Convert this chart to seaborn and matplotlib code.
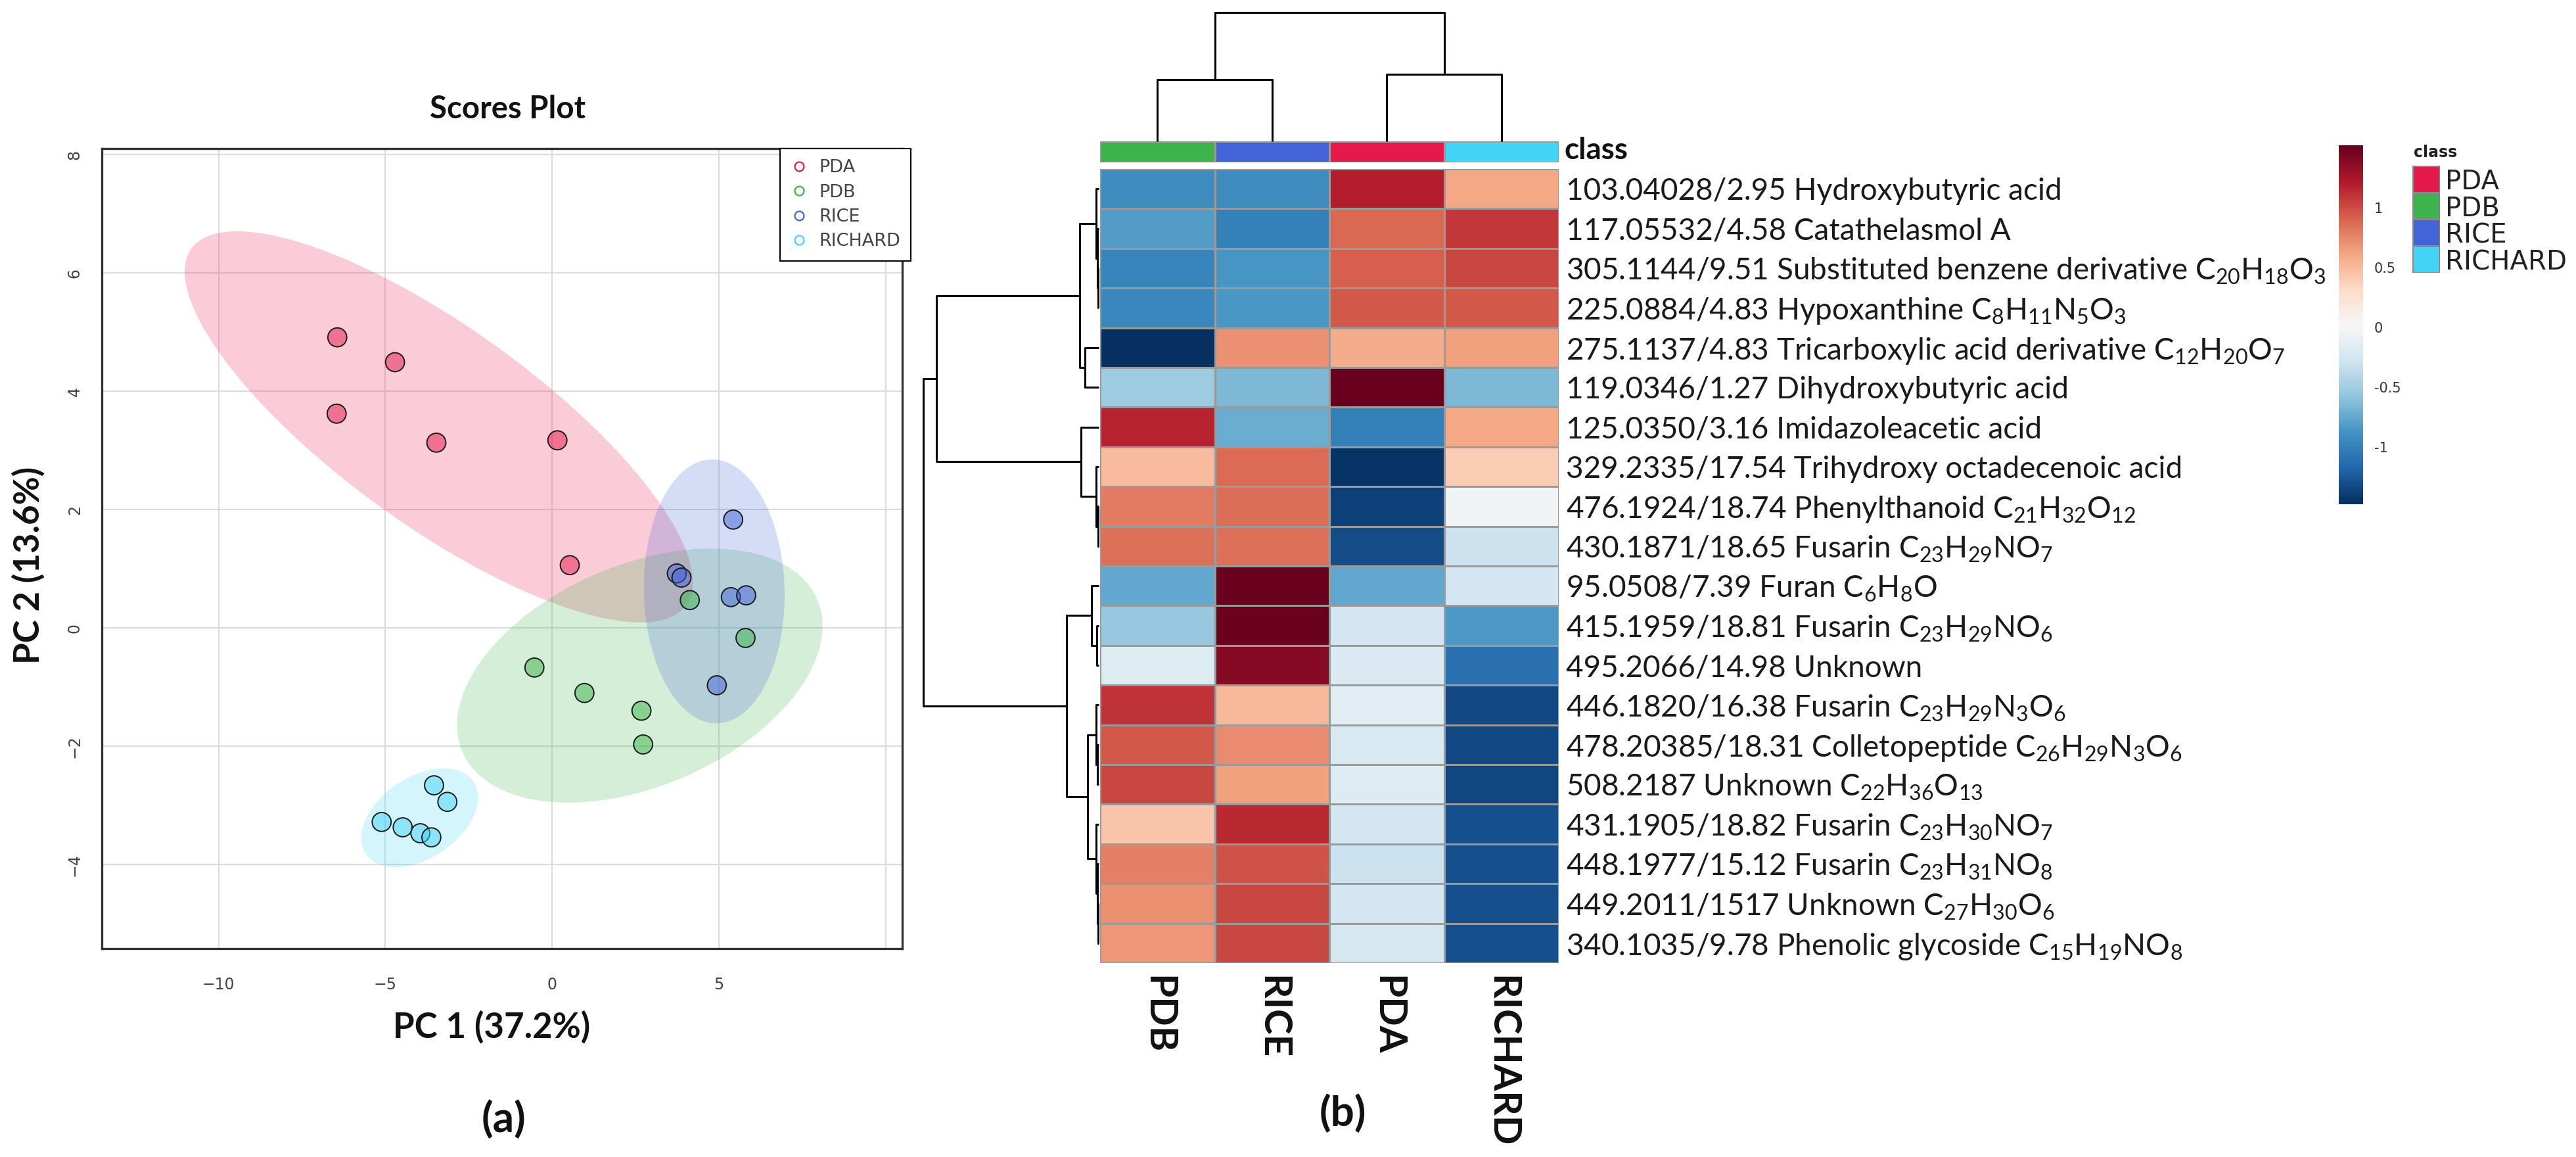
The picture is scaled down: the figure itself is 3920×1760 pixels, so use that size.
import numpy as np
import pandas as pd
import matplotlib
matplotlib.use("Agg")
import matplotlib.pyplot as plt
import seaborn as sns
from matplotlib.patches import Ellipse
from matplotlib.colors import ListedColormap
from matplotlib.lines import Line2D

# ---------------- data: PCA scores (panel a) ----------------
groups = ["PDA", "PDB", "RICE", "RICHARD"]
pda_pc1 = [-6.44, -4.71, -6.46, -3.47, 0.16, 0.53]
pda_pc2 = [4.91, 4.49, 3.62, 3.13, 3.17, 1.06]
pdb_pc1 = [4.13, 5.80, -0.53, 0.97, 2.68, 2.73]
pdb_pc2 = [0.47, -0.17, -0.67, -1.10, -1.40, -1.97]
rice_pc1 = [5.43, 3.74, 3.88, 5.36, 5.82, 4.94]
rice_pc2 = [1.83, 0.92, 0.85, 0.52, 0.55, -0.97]
richard_pc1 = [-3.54, -3.14, -5.11, -4.48, -3.95, -3.62]
richard_pc2 = [-2.66, -2.94, -3.28, -3.37, -3.47, -3.54]
x_ticks = [-10, -5, 0, 5, 10]
x_ticklabels = ["\u221210", "\u22125", "0", "5", ""]
y_ticks = [-4, -2, 0, 2, 4, 6, 8]

# ---------------- data: heatmap (panel b) ----------------
hm_columns = ["PDB", "RICE", "PDA", "RICHARD"]
features = [
    "103.04028/2.95 Hydroxybutyric acid",
    "117.05532/4.58 Catathelasmol A",
    "305.1144/9.51 Substituted benzene derivative C$_{20}$H$_{18}$O$_{3}$",
    "225.0884/4.83 Hypoxanthine C$_{8}$H$_{11}$N$_{5}$O$_{3}$",
    "275.1137/4.83 Tricarboxylic acid derivative C$_{12}$H$_{20}$O$_{7}$",
    "119.0346/1.27 Dihydroxybutyric acid",
    "125.0350/3.16 Imidazoleacetic acid",
    "329.2335/17.54 Trihydroxy octadecenoic acid",
    "476.1924/18.74 Phenylthanoid C$_{21}$H$_{32}$O$_{12}$",
    "430.1871/18.65 Fusarin C$_{23}$H$_{29}$NO$_{7}$",
    "95.0508/7.39 Furan C$_{6}$H$_{8}$O",
    "415.1959/18.81 Fusarin C$_{23}$H$_{29}$NO$_{6}$",
    "495.2066/14.98 Unknown",
    "446.1820/16.38 Fusarin C$_{23}$H$_{29}$N$_{3}$O$_{6}$",
    "478.20385/18.31 Colletopeptide C$_{26}$H$_{29}$N$_{3}$O$_{6}$",
    "508.2187 Unknown C$_{22}$H$_{36}$O$_{13}$",
    "431.1905/18.82 Fusarin C$_{23}$H$_{30}$NO$_{7}$",
    "448.1977/15.12 Fusarin C$_{23}$H$_{31}$NO$_{8}$",
    "449.2011/1517 Unknown C$_{27}$H$_{30}$O$_{6}$",
    "340.1035/9.78 Phenolic glycoside C$_{15}$H$_{19}$NO$_{8}$",
]
pdb_vals = [-0.92, -0.82, -0.97, -0.96, -1.47, -0.52, 1.18, 0.50, 0.80, 0.85,
            -0.76, -0.55, -0.18, 1.10, 0.95, 1.02, 0.45, 0.78, 0.70, 0.68]
rice_vals = [-0.92, -1.00, -0.86, -0.85, 0.70, -0.65, -0.72, 0.87, 0.86, 0.85,
             1.50, 1.50, 1.38, 0.52, 0.73, 0.63, 1.15, 0.98, 1.02, 1.02]
pda_vals = [1.20, 0.88, 0.92, 0.95, 0.58, 1.52, -1.00, -1.45, -1.38, -1.32,
            -0.76, -0.25, -0.20, -0.15, -0.22, -0.18, -0.25, -0.30, -0.26, -0.24]
richard_vals = [0.60, 1.08, 1.02, 0.95, 0.63, -0.65, 0.60, 0.40, -0.05, -0.30,
                -0.25, -0.84, -1.10, -1.33, -1.33, -1.35, -1.30, -1.30, -1.30, -1.30]
cbar_ticks = [-1, -0.5, 0, 0.5, 1]
cbar_ticklabels = ["-1", "-0.5", "0", "0.5", "1"]

# dendrogram linkages: (left id, right id, height); leaves are 0..n-1
row_merges = [
    (2, 3, 1), (1, 20, 2), (0, 21, 4), (4, 5, 21), (22, 23, 29),
    (8, 9, 1), (7, 25, 4), (6, 26, 27),
    (11, 12, 3), (10, 28, 11), (14, 15, 2), (13, 30, 4),
    (18, 19, 1), (17, 32, 2), (16, 33, 4), (31, 34, 17), (29, 35, 49),
    (24, 27, 247), (37, 36, 267),
]
col_merges = [(0, 1, 94), (2, 3, 102), (4, 5, 196)]

class_colors = {"PDA": "#e6194B", "PDB": "#3cb44b", "RICE": "#4363d8", "RICHARD": "#42d4f4"}

# ---------------- figure ----------------
sns.set_style("white")
plt.rcParams["font.family"] = ["Lato", "DejaVu Sans"]
plt.rcParams["mathtext.fontset"] = "custom"
plt.rcParams["mathtext.rm"] = "Lato"
plt.rcParams["mathtext.default"] = "regular"

W, H = 3920, 1760
fig = plt.figure(figsize=(W / 100, H / 100), dpi=100)


def fax(x0, y0, x1, y1):
    return fig.add_axes([x0 / W, 1 - y1 / H, (x1 - x0) / W, (y1 - y0) / H])


# ----- panel (a): scores plot -----
scores = pd.DataFrame({
    "PC1": pda_pc1 + pdb_pc1 + rice_pc1 + richard_pc1,
    "PC2": pda_pc2 + pdb_pc2 + rice_pc2 + richard_pc2,
    "group": ["PDA"] * len(pda_pc1) + ["PDB"] * len(pdb_pc1)
             + ["RICE"] * len(rice_pc1) + ["RICHARD"] * len(richard_pc1),
})

ax = fax(155, 226, 1373, 1443)
ax.set_xlim(-13.5, 10.5)
ax.set_ylim(-5.42, 8.1)
ax.grid(True, color="#dcdcdc", lw=1.6)
ax.set_axisbelow(True)

for g in groups:
    sub = scores[scores.group == g]
    xy = sub[["PC1", "PC2"]].to_numpy()
    mu = xy.mean(axis=0)
    cov = np.cov(xy.T)
    vals, vecs = np.linalg.eigh(cov)
    order = vals.argsort()[::-1]
    vals, vecs = vals[order], vecs[:, order]
    k = np.sqrt(5.991)
    ang = np.degrees(np.arctan2(vecs[1, 0], vecs[0, 0]))
    ax.add_patch(Ellipse(mu, 2 * k * np.sqrt(vals[0]), 2 * k * np.sqrt(vals[1]), angle=ang,
                         facecolor=class_colors[g], alpha=0.22, lw=0, zorder=1))

sns.scatterplot(data=scores, x="PC1", y="PC2", hue="group", hue_order=groups,
                palette=class_colors, s=430, edgecolor="black", linewidth=1.4,
                legend=False, ax=ax, zorder=3)
for coll in ax.collections:
    fc = coll.get_facecolors()
    if len(fc):
        fc[:, 3] = 0.5
        coll.set_facecolors(fc)
        coll.set_edgecolors((0.1, 0.1, 0.1, 1))

ax.set_xticks(x_ticks)
ax.set_xticklabels(x_ticklabels)
ax.set_yticks(y_ticks)
ax.set_yticklabels([str(v) if v >= 0 else "\u2212" + str(-v) for v in y_ticks])
ax.tick_params(axis="both", length=11, width=1.5, color="#444444", labelsize=17,
               labelcolor="#444444")
ax.tick_params(axis="x", pad=20)
ax.tick_params(axis="y", pad=10, labelrotation=90)
for lbl in ax.get_xticklabels() + ax.get_yticklabels():
    lbl.set_family("DejaVu Sans")
for lbl in ax.get_yticklabels():
    lbl.set_va("center")
for s in ax.spines.values():
    s.set_visible(True)
    s.set_color("#333333")
    s.set_linewidth(2.4)
ax.set_xlabel("PC 1 (37.2%)", fontsize=38, fontweight="bold", color="#111111")
ax.xaxis.set_label_coords(0.487, -0.098)
ax.xaxis.label.set_va("center")
ax.set_ylabel("PC 2 (13.6%)", fontsize=38, fontweight="bold", color="#111111")
ax.yaxis.set_label_coords(-0.092, 0.479)
ax.yaxis.label.set_va("center")
ax.text(0.507, 1.049, "Scores Plot", transform=ax.transAxes, ha="center", va="center",
        fontsize=34, fontweight="bold", color="#111111")

handles = [Line2D([], [], marker="o", ls="", markerfacecolor="none",
                  markeredgecolor=class_colors[g], markeredgewidth=1.6, markersize=10)
           for g in groups]
leg = ax.legend(handles, groups, loc="upper right", bbox_to_anchor=(1.011, 1.0),
                frameon=True, fancybox=False, edgecolor="black", framealpha=1,
                borderaxespad=0, labelspacing=0.42, handletextpad=0.6, handlelength=1.0,
                borderpad=0.6, prop={"family": "DejaVu Sans", "size": 19.5})
leg.get_frame().set_linewidth(1.5)
for t in leg.get_texts():
    t.set_color("#444444")

fig.text(766 / W, 1 - 1702 / H, "(a)", ha="center", va="center", fontsize=46,
         fontweight="bold", color="#111111")

# ----- panel (b): heatmap -----
df = pd.DataFrame({"PDB": pdb_vals, "RICE": rice_vals, "PDA": pda_vals,
                   "RICHARD": richard_vals}, index=features)[hm_columns]

ax_h = fax(1674, 257, 2372, 1465)
ax_cb = fax(3559, 221, 3596, 767)
sns.heatmap(df, ax=ax_h, cmap="RdBu_r", vmin=-1.48, vmax=1.52, linewidths=1.8,
            linecolor="#9a9a9a", cbar_ax=ax_cb, xticklabels=True, yticklabels=True)
ax_h.yaxis.tick_right()
ax_h.set_yticks(np.arange(len(features)) + 0.5)
ax_h.set_yticklabels(features, rotation=0, fontsize=33, color="#1a1a1a")
ax_h.tick_params(axis="y", length=0, pad=8)
ax_h.set_xticklabels(hm_columns, rotation=270, fontsize=42, fontweight="bold",
                     color="#111111", va="top", ha="center")
ax_h.tick_params(axis="x", length=0, pad=14)
ax_h.set_xlabel("")
ax_h.set_ylabel("")

cb = ax_h.collections[0].colorbar
cb.outline.set_visible(False)
cb.set_ticks(cbar_ticks)
cb.set_ticklabels(cbar_ticklabels)
ax_cb.tick_params(length=0, labelsize=15, pad=12, labelcolor="#333333")
for lbl in ax_cb.get_yticklabels():
    lbl.set_family("DejaVu Sans")

# class annotation bar
ax_cls = fax(1674, 215, 2372, 247)
codes = np.array([[groups.index(c) for c in hm_columns]])
cls_cmap = ListedColormap([class_colors[g] for g in groups])
sns.heatmap(codes, ax=ax_cls, cmap=cls_cmap, vmin=-0.5, vmax=len(groups) - 0.5,
            cbar=False, linewidths=1.8, linecolor="#9a9a9a", xticklabels=False,
            yticklabels=False)
fig.text(2381 / W, 1 - 229 / H, "class", ha="left", va="center", fontsize=33,
         fontweight="bold", color="#111111")


def dendro_coords(merges, n):
    pos = {i: i + 0.5 for i in range(n)}
    hgt = {i: 0.0 for i in range(n)}
    segs = []
    for k, (a, b, h) in enumerate(merges):
        nid = n + k
        segs.append(([pos[a], pos[a], pos[b], pos[b]], [hgt[a], h, h, hgt[b]]))
        pos[nid] = (pos[a] + pos[b]) / 2
        hgt[nid] = h
    return segs


# column dendrogram
ax_cd = fax(1674, 19, 2372, 215)
for p, h in dendro_coords(col_merges, len(hm_columns)):
    ax_cd.plot(p, h, color="black", lw=2.2, clip_on=False, solid_capstyle="butt")
ax_cd.set_xlim(0, len(hm_columns))
ax_cd.set_ylim(0, max(m[2] for m in col_merges))
ax_cd.axis("off")

# row dendrogram
ax_rd = fax(1405, 257, 1672, 1465)
for p, h in dendro_coords(row_merges, len(features)):
    ax_rd.plot(h, p, color="black", lw=2.2, clip_on=False, solid_capstyle="butt")
ax_rd.set_ylim(len(features), 0)
ax_rd.set_xlim(max(m[2] for m in row_merges), 0)
ax_rd.axis("off")

# class legend
ax_lg = fax(3671, 252, 3713, 415)
sns.heatmap(np.arange(len(groups)).reshape(-1, 1), ax=ax_lg, cmap=cls_cmap,
            vmin=-0.5, vmax=len(groups) - 0.5, cbar=False, linewidths=1.0,
            linecolor="#8a8a8a", xticklabels=False, yticklabels=groups)
ax_lg.yaxis.tick_right()
ax_lg.set_yticklabels(groups, rotation=0, fontsize=29, color="#222222")
for lbl in ax_lg.get_yticklabels():
    lbl.set_family("DejaVu Sans")
ax_lg.tick_params(axis="y", length=0, pad=6)
fig.text(3673 / W, 1 - 232 / H, "class", ha="left", va="center", fontsize=17,
         fontweight="bold", color="#222222", family="DejaVu Sans")

fig.text(2043 / W, 1 - 1693 / H, "(b)", ha="center", va="center", fontsize=46,
         fontweight="bold", color="#111111")

fig.savefig("out.png", dpi=100, facecolor="white")
